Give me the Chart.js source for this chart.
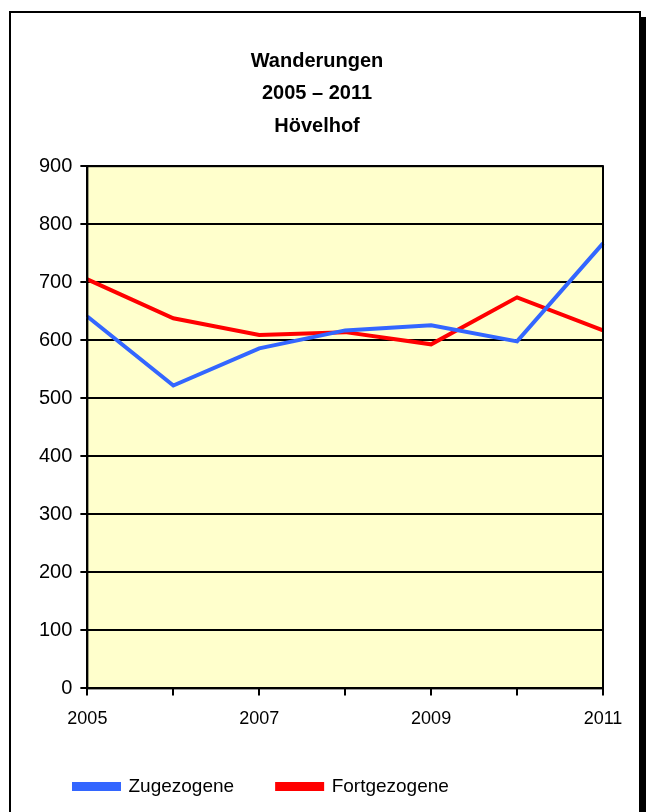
<!DOCTYPE html>
<html>
<head>
<meta charset="utf-8">
<script src="https://cdn.jsdelivr.net/npm/chart.js@4"></script>
<style>
  html, body { margin: 0; padding: 0; background: #fff; overflow: hidden; }
  #frame {
    position: absolute; left: 9px; top: 11px; width: 628px; height: 830px;
    border: 2px solid #000; box-shadow: 6px 6px 0 #000; background: #fff;
  }
  #wrap { position: absolute; left: 0; top: 0; width: 646px; height: 812px; }
</style>
</head>
<body>
<div id="frame"></div>
<div id="wrap"><canvas id="chart-wanderungen"></canvas></div>
<script>
// Wanderungen Hövelhof
let labelsJahre = ['2005', '2006', '2007', '2008', '2009', '2010', '2011'];
let dataZugezogene = [641, 522, 586, 617, 626, 598, 767];
let dataFortgezogene = [705, 638, 609, 614, 593, 674, 617];
let titelZeilen = ['Wanderungen', '2005 – 2011', 'Hövelhof'];

Chart.defaults.font.family = '"Liberation Sans", Arial, sans-serif';
Chart.defaults.color = '#000';

// gelber Hintergrund + Rahmen der Zeichenfläche
const plotFlaeche = {
    id: 'plotFlaeche',
    beforeDraw(chart) {
        const a = chart.chartArea, ctx = chart.ctx;
        ctx.save();
        ctx.fillStyle = '#FFFFCC';
        ctx.fillRect(a.left, a.top, a.right - a.left, a.bottom - a.top);
        ctx.restore();
    },
    afterDraw(chart) {
        const a = chart.chartArea, ctx = chart.ctx;
        ctx.save();
        ctx.strokeStyle = '#000';
        ctx.lineWidth = 2;
        ctx.strokeRect(a.left, a.top, a.right - a.left, a.bottom - a.top);
        ctx.restore();
    }
};

var ctxWanderungen = document.getElementById('chart-wanderungen').getContext('2d');

let chartWanderungen = new Chart(ctxWanderungen, {
    type: 'line',
    data: {
        labels: labelsJahre,
        datasets: [{
            label: 'Zugezogene',
            data: dataZugezogene,
            borderColor: '#3366FF',
            backgroundColor: '#3366FF',
            borderWidth: 4,
            pointRadius: 0,
            tension: 0
        }, {
            label: 'Fortgezogene',
            data: dataFortgezogene,
            borderColor: '#FF0000',
            backgroundColor: '#FF0000',
            borderWidth: 4,
            pointRadius: 0,
            tension: 0
        }]
    },
    options: {
        responsive: true,
        maintainAspectRatio: false,
        animation: false,
        layout: { padding: { left: 31, right: 43, top: 45, bottom: 6 } },
        plugins: {
            title: {
                display: true,
                text: titelZeilen,
                font: { size: 20, weight: 'bold', lineHeight: 1.62 },
                color: '#000',
                padding: { top: 0, bottom: 24 }
            },
            legend: {
                position: 'bottom',
                align: 'start',
                labels: {
                    boxWidth: 45,
                    boxHeight: 5,
                    padding: 43,
                    font: { size: 19 },
                    color: '#000'
                }
            },
            tooltip: { enabled: false }
        },
        scales: {
            x: {
                offset: false,
                grid: {
                    drawOnChartArea: false,
                    drawTicks: true,
                    tickLength: 7,
                    color: '#000',
                    lineWidth: 2
                },
                border: { color: '#000', width: 2 },
                ticks: {
                    autoSkip: false,
                    maxRotation: 0,
                    padding: 13,
                    font: { size: 18 },
                    callback: function (v, i) { return i % 2 === 0 ? this.getLabelForValue(v) : ''; }
                },
                afterFit: function (scale) { scale.height -= 9; }
            },
            y: {
                min: 0,
                max: 900,
                grid: { color: '#000', lineWidth: 2, tickLength: 7 },
                border: { color: '#000', width: 2 },
                ticks: { stepSize: 100, padding: 8, font: { size: 20 } }
            }
        }
    },
    plugins: [plotFlaeche]
});
</script>
</body>
</html>
